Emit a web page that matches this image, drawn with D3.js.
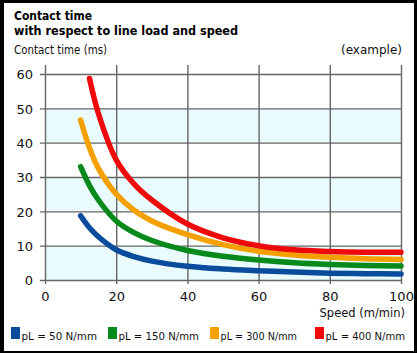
<!DOCTYPE html>
<html><head><meta charset="utf-8">
<script src="https://cdn.jsdelivr.net/npm/d3@7"></script>
<style>html,body{margin:0;padding:0;background:#000;}svg{display:block;}</style>
</head><body>
<script>
const speeds = [10, 12.5, 15, 20, 25, 30, 40, 50, 60, 70, 80, 90, 100];
const blue50 = [18.7, 15.2, 12.6, 8.8, 6.8, 5.5, 4.0, 3.2, 2.7, 2.3, 2.0, 1.85, 1.75];
const green150 = [33, 27.5, 23.3, 17.2, 13.8, 11.5, 8.6, 6.9, 5.8, 5.0, 4.5, 4.2, 4.1];
const orange300 = [46.6, 38.5, 32.5, 25, 20.3, 17.2, 13.2, 10.3, 8.4, 7.3, 6.6, 6.2, 6.0];
const red400 = [null, 58.7, 48.5, 35, 28, 23.3, 16.3, 12.3, 10, 8.8, 8.3, 8.1, 8.1];
const seriesNames = ["pL = 50 N/mm", "pL = 150 N/mm", "pL = 300 N/mm", "pL = 400 N/mm"];
const seriesColors = ["#0a4c9c", "#07891b", "#f4a100", "#ee0a0a"];
const xTicks = [0, 20, 40, 60, 80, 100];
const yTicks = [0, 10, 20, 30, 40, 50, 60];

const W = 417, H = 353;
const svg = d3.select("body").append("svg").attr("width", W).attr("height", H);
svg.append("rect").attr("x", 4).attr("y", 3).attr("width", 410).attr("height", 348).attr("fill", "#fff");

const x = d3.scaleLinear().domain([0, 100]).range([45, 401]);
const y = d3.scaleLinear().domain([0, 60]).range([280, 74]);

// bands
[[0,10],[20,30],[40,50]].forEach(b => {
  svg.append("rect").attr("x", x(0)).attr("width", x(100)-x(0))
    .attr("y", y(b[1])).attr("height", y(b[0]) - y(b[1])).attr("fill", "#e9fbfd");
});

const font = "'DejaVu Sans', sans-serif";
const yAxis = d3.axisLeft(y).tickValues(yTicks).tickSize(x(100) - x(0) + 5).tickPadding(7);
const gy = svg.append("g").attr("transform", `translate(${x(100)},0)`).call(yAxis);
gy.select(".domain").remove();
gy.selectAll("line").attr("stroke", "#666").attr("stroke-width", 1.4);
gy.selectAll("text").attr("font-family", font).attr("font-size", 13).attr("fill", "#111").attr("dy", "0.36em");

const xAxis = d3.axisBottom(x).tickValues(xTicks).tickSize(284 - 65).tickPadding(8);
const gx = svg.append("g").attr("transform", `translate(0,65)`).call(xAxis);
gx.select(".domain").remove();
gx.selectAll("line").attr("stroke", "#666").attr("stroke-width", 1.4);
gx.selectAll("text").attr("font-family", font).attr("font-size", 13).attr("fill", "#111");

const allSeries = [blue50, green150, orange300, red400];
const line = d3.line().defined(d => d[1] != null)
  .x(d => x(d[0])).y(d => y(d[1])).curve(d3.curveCatmullRom.alpha(0.5));
allSeries.forEach((vals, i) => {
  const pts = speeds.map((s, j) => [s, vals[j]]).filter(d => d[1] != null);
  svg.append("path").datum(pts).attr("d", line).attr("fill", "none")
    .attr("stroke", seriesColors[i]).attr("stroke-width", 5.5).attr("stroke-linecap", "round");
});

// titles
svg.append("text").attr("x", 14).attr("y", 20).attr("font-family", font).attr("font-weight", "bold")
  .attr("font-size", 12.5).attr("fill", "#000").attr("textLength", 78).attr("lengthAdjust", "spacingAndGlyphs").text("Contact time");
svg.append("text").attr("x", 14).attr("y", 34.5).attr("font-family", font).attr("font-weight", "bold")
  .attr("font-size", 12.5).attr("fill", "#000").attr("textLength", 224).attr("lengthAdjust", "spacingAndGlyphs").text("with respect to line load and speed");
svg.append("text").attr("x", 14).attr("y", 54).attr("font-family", font)
  .attr("font-size", 12).attr("fill", "#111").attr("textLength", 93).attr("lengthAdjust", "spacingAndGlyphs").text("Contact time (ms)");
svg.append("text").attr("x", 402).attr("y", 54).attr("text-anchor", "end").attr("font-family", font)
  .attr("font-size", 12).attr("fill", "#111").text("(example)");
svg.append("text").attr("x", 405).attr("y", 317).attr("text-anchor", "end").attr("font-family", font)
  .attr("font-size", 11.5).attr("fill", "#111").text("Speed (m/min)");

// legend
const legX = [11, 108, 210, 315];
const legEnd = [97, 199, 297, 405];
seriesNames.forEach((n, i) => {
  svg.append("rect").attr("x", legX[i]).attr("y", 327).attr("width", 9).attr("height", 12).attr("fill", seriesColors[i]);
  svg.append("text").attr("x", legX[i] + 10.5).attr("y", 339.5).attr("font-family", font).attr("font-size", 11)
    .attr("fill", "#111").attr("textLength", legEnd[i] - legX[i] - 10.5).attr("lengthAdjust", "spacingAndGlyphs").text(n);
});
</script>
</body></html>
